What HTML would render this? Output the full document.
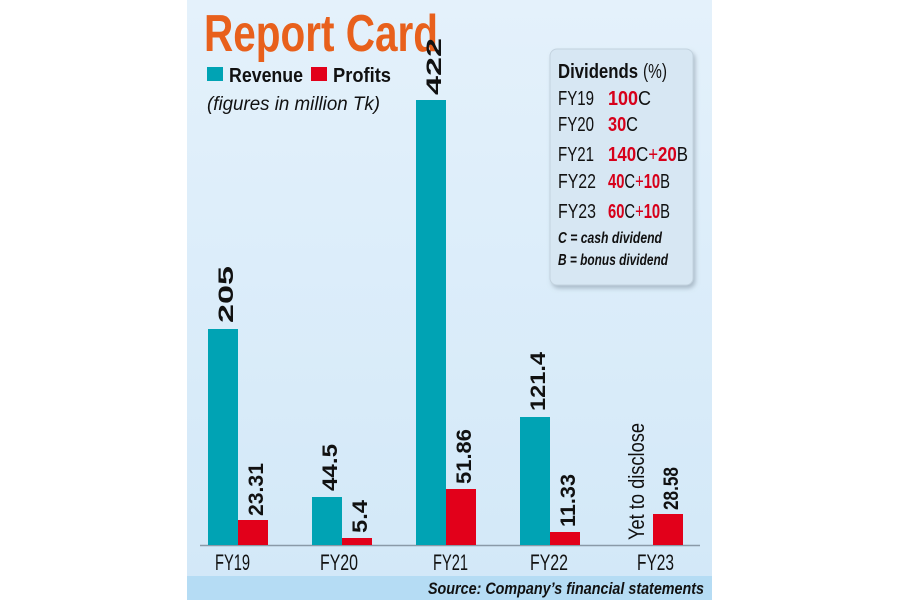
<!DOCTYPE html>
<html><head><meta charset="utf-8"><style>
html,body{margin:0;padding:0;background:#fff;width:900px;height:600px;overflow:hidden}
svg{display:block}
text{font-family:"Liberation Sans Narrow","Liberation Sans",sans-serif}
</style></head><body>
<svg width="900" height="600" viewBox="0 0 900 600">
<defs>
<linearGradient id="bg" x1="0" y1="0" x2="0" y2="1">
<stop offset="0" stop-color="#e4f1fb"/><stop offset="1" stop-color="#d2e8f8"/>
</linearGradient>
<filter id="sh" x="-10%" y="-10%" width="130%" height="130%"><feDropShadow dx="2" dy="3" stdDeviation="2" flood-color="#7a8a99" flood-opacity="0.5"/></filter>
</defs>
<rect x="187" y="0" width="525" height="600" fill="url(#bg)"/>
<rect x="187" y="576" width="525" height="24" fill="#b5dcf4"/>
<text x="204" y="51" font-size="52" font-weight="bold" fill="#e8601c" textLength="234" lengthAdjust="spacingAndGlyphs">Report Card</text>
<rect x="207" y="67" width="16" height="14" fill="#00a3b4"/>
<text x="229" y="82" font-size="20" font-weight="bold" fill="#111" textLength="74" lengthAdjust="spacingAndGlyphs">Revenue</text>
<rect x="311" y="67" width="16" height="14" fill="#e2001a"/>
<text x="333" y="82" font-size="20" font-weight="bold" fill="#111" textLength="58" lengthAdjust="spacingAndGlyphs">Profits</text>
<text x="207" y="110" font-size="19" font-style="italic" fill="#111" textLength="173" lengthAdjust="spacingAndGlyphs">(figures in million Tk)</text>

<rect x="550" y="49" width="143" height="236" rx="7" fill="#d7e7f3" stroke="#c3d3df" filter="url(#sh)"/>
<g font-size="20" fill="#111">
<text x="558" y="78" font-weight="bold" textLength="80" lengthAdjust="spacingAndGlyphs">Dividends</text><text x="643" y="78" textLength="24" lengthAdjust="spacingAndGlyphs">(%)</text>
<text x="558" y="105" textLength="36" lengthAdjust="spacingAndGlyphs">FY19</text>
<text x="608" y="105" textLength="43" lengthAdjust="spacingAndGlyphs"><tspan font-weight="bold" fill="#d7001a">100</tspan>C</text>
<text x="558" y="131" textLength="36" lengthAdjust="spacingAndGlyphs">FY20</text>
<text x="608" y="131" textLength="30" lengthAdjust="spacingAndGlyphs"><tspan font-weight="bold" fill="#d7001a">30</tspan>C</text>
<text x="558" y="161" textLength="36" lengthAdjust="spacingAndGlyphs">FY21</text>
<text x="608" y="161" textLength="80" lengthAdjust="spacingAndGlyphs"><tspan font-weight="bold" fill="#d7001a">140</tspan>C<tspan fill="#d7001a">+</tspan><tspan font-weight="bold" fill="#d7001a">20</tspan>B</text>
<text x="558" y="188" textLength="38" lengthAdjust="spacingAndGlyphs">FY22</text>
<text x="608" y="188" textLength="62" lengthAdjust="spacingAndGlyphs"><tspan font-weight="bold" fill="#d7001a">40</tspan>C<tspan fill="#d7001a">+</tspan><tspan font-weight="bold" fill="#d7001a">10</tspan>B</text>
<text x="558" y="218" textLength="38" lengthAdjust="spacingAndGlyphs">FY23</text>
<text x="608" y="218" textLength="62" lengthAdjust="spacingAndGlyphs"><tspan font-weight="bold" fill="#d7001a">60</tspan>C<tspan fill="#d7001a">+</tspan><tspan font-weight="bold" fill="#d7001a">10</tspan>B</text>
</g>
<g font-size="16" font-style="italic" font-weight="bold" fill="#111">
<text x="558" y="243" textLength="104" lengthAdjust="spacingAndGlyphs">C = cash dividend</text>
<text x="558" y="265" textLength="110" lengthAdjust="spacingAndGlyphs">B = bonus dividend</text>
</g>

<line x1="200" y1="545.5" x2="700" y2="545.5" stroke="#8a9aa8" stroke-width="1.5"/>
<g fill="#00a3b4">
<rect x="208" y="329" width="30" height="216"/>
<rect x="312" y="497" width="30" height="48"/>
<rect x="416" y="100" width="30" height="445"/>
<rect x="520" y="417" width="30" height="128"/>
</g>
<g fill="#e2001a">
<rect x="238" y="520" width="30" height="25"/>
<rect x="342" y="538" width="30" height="7"/>
<rect x="446" y="489" width="30" height="56"/>
<rect x="550" y="532" width="30" height="13"/>
<rect x="653" y="514" width="30" height="31"/>
</g>
<g font-size="21" font-weight="bold" fill="#111">
<text transform="translate(233,323) rotate(-90)" textLength="57" lengthAdjust="spacingAndGlyphs">205</text>
<text transform="translate(263,516) rotate(-90)" textLength="53" lengthAdjust="spacingAndGlyphs">23.31</text>
<text transform="translate(337,491) rotate(-90)" textLength="47" lengthAdjust="spacingAndGlyphs">44.5</text>
<text transform="translate(367,533) rotate(-90)" textLength="33" lengthAdjust="spacingAndGlyphs">5.4</text>
<text transform="translate(441,95) rotate(-90)" textLength="57" lengthAdjust="spacingAndGlyphs">422</text>
<text transform="translate(471,484) rotate(-90)" textLength="55" lengthAdjust="spacingAndGlyphs">51.86</text>
<text transform="translate(545,411) rotate(-90)" textLength="59" lengthAdjust="spacingAndGlyphs">121.4</text>
<text transform="translate(575,527) rotate(-90)" textLength="53" lengthAdjust="spacingAndGlyphs">11.33</text>
<text transform="translate(678,510) rotate(-90)" textLength="43" lengthAdjust="spacingAndGlyphs">28.58</text>
</g>
<text transform="translate(644,540) rotate(-90)" font-size="22" fill="#111" textLength="117" lengthAdjust="spacingAndGlyphs">Yet to disclose</text>
<g font-size="22" fill="#111">
<text x="215" y="570" textLength="35" lengthAdjust="spacingAndGlyphs">FY19</text>
<text x="320" y="570" textLength="38" lengthAdjust="spacingAndGlyphs">FY20</text>
<text x="433" y="570" textLength="35" lengthAdjust="spacingAndGlyphs">FY21</text>
<text x="530" y="570" textLength="38" lengthAdjust="spacingAndGlyphs">FY22</text>
<text x="637" y="570" textLength="37" lengthAdjust="spacingAndGlyphs">FY23</text>
</g>
<text x="428" y="594" font-size="17" font-weight="bold" font-style="italic" fill="#111" textLength="276" lengthAdjust="spacingAndGlyphs">Source: Company’s financial statements</text>
</svg>
</body></html>
